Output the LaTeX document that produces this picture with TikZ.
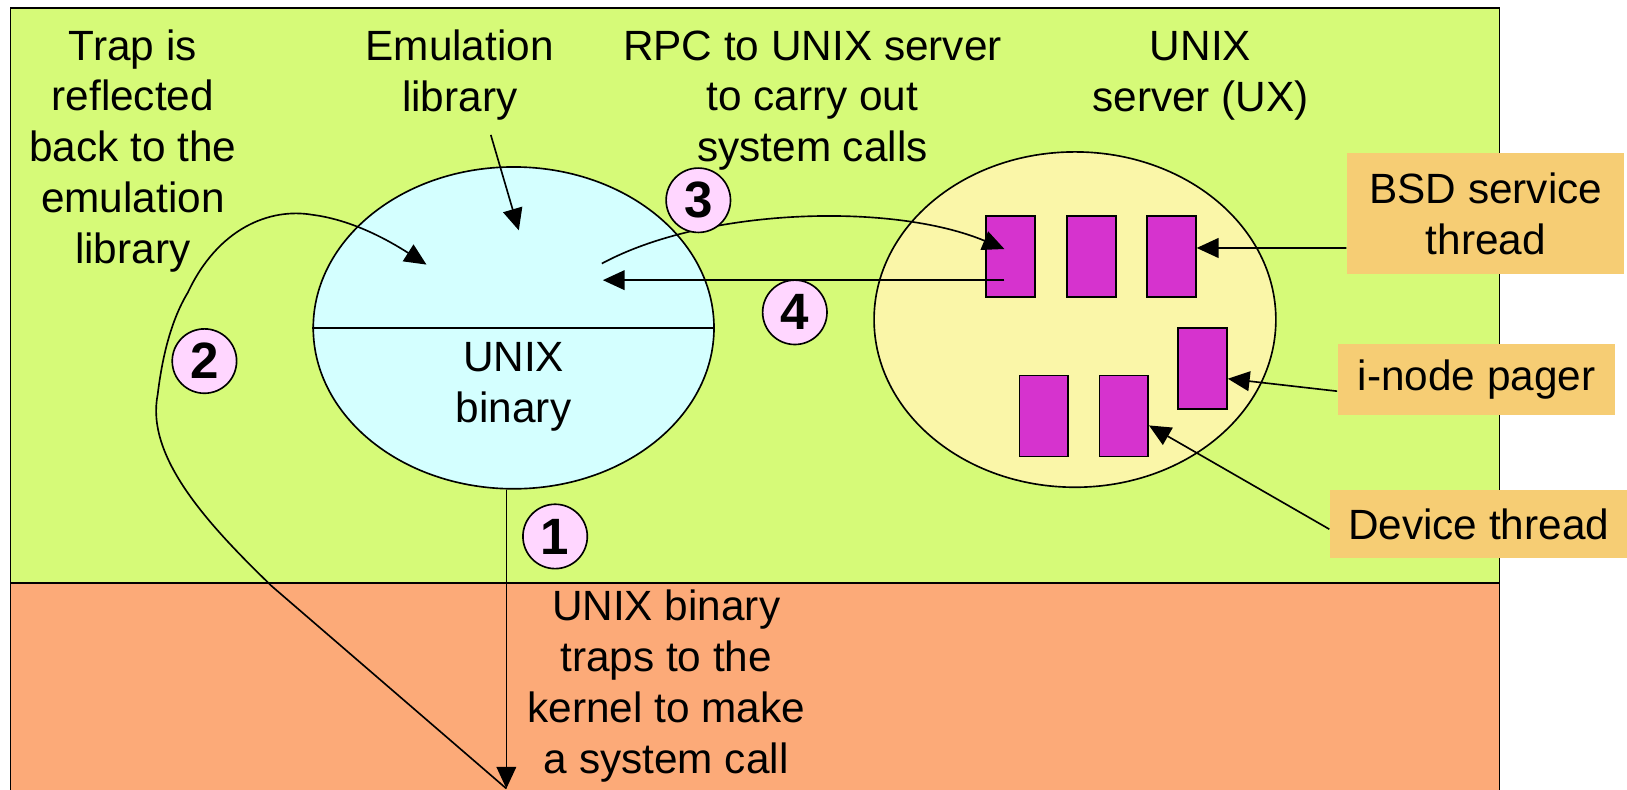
\documentclass[tikz,border=0pt]{standalone}
\usepackage{fontspec}
\setmainfont{Liberation Sans}
\usetikzlibrary{arrows.meta,shapes.geometric}
\definecolor{grn}{RGB}{214,250,120}
\definecolor{org}{RGB}{252,170,120}
\definecolor{blu}{RGB}{212,255,255}
\definecolor{ylw}{RGB}{250,246,168}
\definecolor{mag}{RGB}{214,51,206}
\definecolor{pnk}{RGB}{255,214,255}
\definecolor{lblc}{RGB}{246,205,116}
\begin{document}
\begin{tikzpicture}[x=0.01cm,y=-0.01cm,line width=0.45pt,
  txt/.style={align=center,inner sep=0pt,anchor=base,font=\fontsize{11.6}{13.94}\selectfont},
  arr/.style={-{Triangle[length=0.21cm,width=0.19cm]}},
  thr/.style={draw,fill=mag,minimum width=0.47cm,minimum height=0.78cm,inner sep=0pt},
  num/.style={circle,draw,fill=pnk,minimum size=0.62cm,inner sep=0pt,font=\fontsize{14}{15}\selectfont\bfseries},
  lbl/.style={fill=lblc,align=center,inner sep=0pt,font=\fontsize{11.6}{13.94}\selectfont}]
\useasboundingbox (0,0) rectangle (1568,761);
% background regions
\fill[grn] (10,8) rectangle (1445,562);
\fill[org] (10,562) rectangle (1445,761);
\draw (10,761) -- (10,8) -- (1445,8) -- (1445,761);
\draw (10,562) -- (1445,562);
% ellipses
\node[ellipse,draw,fill=blu,minimum width=3.86cm,minimum height=3.10cm,inner sep=0pt] (emu) at (495,316) {};
\draw (emu.west) -- (emu.east);
\node[ellipse,draw,fill=ylw,minimum width=3.87cm,minimum height=3.23cm,inner sep=0pt] (ux) at (1036,308) {};
% threads
\node[thr] (A) at (974,247) {};
\node[thr] (B) at (1052,247) {};
\node[thr] (C) at (1129,247) {};
\node[thr] (D) at (1159,355) {};
\node[thr] (E) at (1006,401) {};
\node[thr] (F) at (1083,401) {};
% labels
\node[lbl,minimum width=2.67cm,minimum height=1.17cm] (bsd) at (1432,206) {BSD service\\thread};
\node[lbl,minimum width=2.67cm,minimum height=0.68cm] (inode) at (1423,366) {i-node pager};
\node[lbl,minimum width=2.86cm,minimum height=0.66cm] (dev) at (1425,505) {Device thread};
% texts (base = baseline of last line)
\node[txt] (trap) at (128,254) {Trap is\\reflected\\back to the\\emulation\\library};
\node[txt] (emlib) at (443,107) {Emulation\\library};
\node[txt] (rpc) at (783,156) {RPC to UNIX server\\to carry out\\system calls};
\node[txt] (uxt) at (1157,107) {UNIX\\server (UX)};
\node[txt] (ubin) at (495,407) {UNIX\\binary};
\node[txt] (traps) at (642,745) {UNIX binary\\traps to the\\kernel to make\\a system call};
% coordinates
\coordinate (kern) at (488,760);
\coordinate (elt) at (500,222);
\coordinate (els) at (473,130);
\coordinate (r2e) at (411,255);
\coordinate (a3s) at (580,254);
\coordinate (a3e) at (968,240);
\coordinate (a4s) at (968,270);
\coordinate (a4e) at (581,270);
% connectors
\draw[arr] (els) -- (elt);
\draw[arr] (kern |- emu.south) -- (kern);
\draw[arr] (kern) -- (262,565) .. controls (200,505) and (140,440) .. (152,380)
   .. controls (158,330) and (170,300) .. (181,282)
   .. controls (210,220) and (260,200) .. (301,207)
   .. controls (340,212) and (375,232) .. (r2e);
\draw[arr] (a3s) .. controls (680,200) and (860,195) .. (a3e);
\draw[arr] (a4s) -- (a4e);
\draw[arr] ([yshift=-0.33cm]bsd.west) -- ([yshift=0.08cm]C.east);
\draw[arr] ([yshift=-0.11cm]inode.west) -- ([yshift=-0.10cm]D.east);
\draw[arr] ([yshift=-0.05cm]dev.west) -- ([yshift=-0.09cm]F.east);
% step numbers
\node[num] (n1) at (535,517) {1};
\node[num] (n2) at (197,348) {2};
\node[num] (n3) at (673,193) {3};
\node[num] (n4) at (766,301) {4};
\end{tikzpicture}
\end{document}
